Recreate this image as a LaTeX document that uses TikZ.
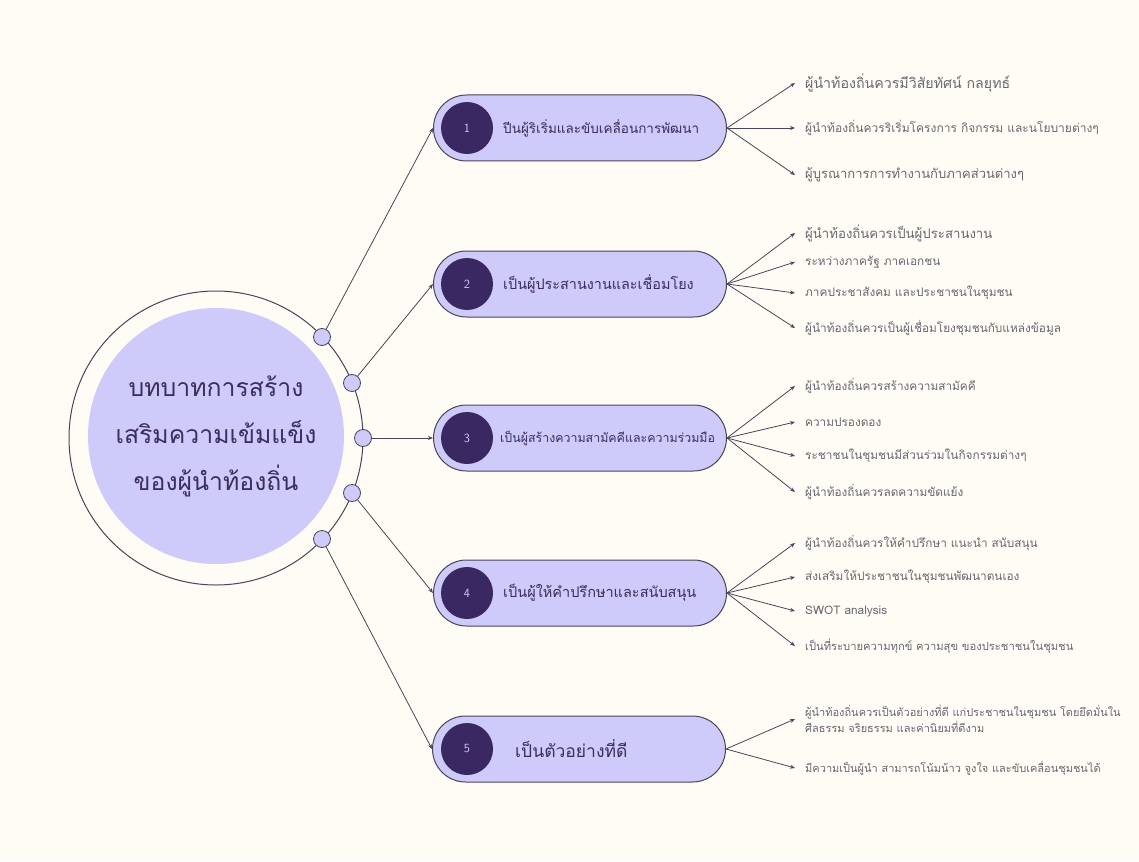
\documentclass[tikz,border=0pt]{standalone}
\usepackage{fontspec}
\newfontfamily\thai[Script=Thai]{Loma}
\setmainfont{Liberation Sans}
\usetikzlibrary{arrows.meta,shapes.misc}
\definecolor{bg}{HTML}{FFFCF6}
\definecolor{lav}{HTML}{CECAFA}
\definecolor{dark}{HTML}{3A2862}
\definecolor{ttext}{HTML}{3B2E58}
\definecolor{leafc}{HTML}{6A6670}
\definecolor{ln}{HTML}{4A4458}
\begin{document}
\begin{tikzpicture}[x=1pt,y=-1pt,
  pill/.style={rounded rectangle, draw=ln, line width=1pt, fill=lav, minimum width=293pt, minimum height=66pt, inner sep=0pt},
  num/.style={circle, fill=dark, minimum size=52pt, inner sep=0pt, text=lav, font=\sffamily\fontsize{12.5}{12.5}\selectfont},
  ptext/.style={anchor=west, inner sep=0pt, text=ttext, font=\thai\fontsize{#1}{#1}\selectfont},
  hub/.style={circle, draw=ln, line width=0.8pt, fill=lav, minimum size=17pt, inner sep=0pt},
  leaf/.style={anchor=west, inner xsep=10pt, inner ysep=0pt, text=leafc, align=left, font=\thai\fontsize{#1}{15.5}\selectfont},
  leaf/.default=11.8,
  arr/.style={draw=ln, line width=0.8pt, -{Stealth[length=5pt,width=4pt]}}
]
\fill[bg] (0,0) rectangle (1139,861);
\useasboundingbox (0,0) rectangle (1139,861);

% centre
\node[circle, draw=ln, line width=1pt, minimum size=294pt, inner sep=0pt] (ring) at (216,438) {};
\node[circle, fill=lav, minimum size=256pt, inner sep=0pt, align=center, text=ttext,
      font=\thai\fontsize{24.8}{47}\selectfont] (core) at (216,436)
      {บทบาทการสร้าง\\เสริมความเข้มแข็ง\\ของผู้นำท้องถิ่น};

\node[hub] (h1) at (322,337) {};
\node[hub] (h2) at (352,383) {};
\node[hub] (h3) at (363,438) {};
\node[hub] (h4) at (352,493) {};
\node[hub] (h5) at (322,539) {};

% pills
\node[pill] (p1) at (580,128) {};
\node[pill] (p2) at (580,284) {};
\node[pill] (p3) at (580,438) {};
\node[pill] (p4) at (580,593) {};
\node[pill] (p5) at (579,749) {};

\node[num] (n1) at (467,128) {1};
\node[num] (n2) at (467,284) {2};
\node[num] (n3) at (467,438) {3};
\node[num] (n4) at (467,593) {4};
\node[num] (n5) at (467,749) {5};

\node[ptext=13.5] (t1) at (503,128) {ปีนผู้ริเริ่มและขับเคลื่อนการพัฒนา};
\node[ptext=14.4] (t2) at (503,284) {เป็นผู้ประสานงานและเชื่อมโยง};
\node[ptext=12.4] (t3) at (500,438) {เป็นผู้สร้างความสามัคคีและความร่วมมือ};
\node[ptext=14.5] (t4) at (503,593) {เป็นผู้ให้คำปรึกษาและสนับสนุน};
\node[ptext=17.5] (t5) at (515,749) {เป็นตัวอย่างที่ดี};

\draw[arr] (h1) -- (p1.west);
\draw[arr] (h2) -- (p2.west);
\draw[arr] (h3) -- (p3.west);
\draw[arr] (h4) -- (p4.west);
\draw[arr] (h5) -- (p5.west);

% leaves group 1
\node[leaf=14.2] (l11) at (795,83) {ผู้นำท้องถิ่นควรมีวิสัยทัศน์ กลยุทธ์};
\node[leaf=12] (l12) at (795,128) {ผู้นำท้องถิ่นควรริเริ่มโครงการ กิจกรรม และนโยบายต่างๆ};
\node[leaf=13] (l13) at (795,175) {ผู้บูรณาการการทำงานกับภาคส่วนต่างๆ};
% group 2
\node[leaf=13.2] (l21) at (795,233) {ผู้นำท้องถิ่นควรเป็นผู้ประสานงาน};
\node[leaf] (l22) at (795,262) {ระหว่างภาครัฐ ภาคเอกชน};
\node[leaf] (l23) at (795,293) {ภาคประชาสังคม และประชาชนในชุมชน};
\node[leaf] (l24) at (795,328) {ผู้นำท้องถิ่นควรเป็นผู้เชื่อมโยงชุมชนกับแหล่งข้อมูล};
% group 3
\node[leaf] (l31) at (795,386) {ผู้นำท้องถิ่นควรสร้างความสามัคคี};
\node[leaf] (l32) at (795,422) {ความปรองดอง};
\node[leaf] (l33) at (795,456) {ระชาชนในชุมชนมีส่วนร่วมในกิจกรรมต่างๆ};
\node[leaf] (l34) at (795,492) {ผู้นำท้องถิ่นควรลดความขัดแย้ง};
% group 4
\node[leaf] (l41) at (795,543) {ผู้นำท้องถิ่นควรให้คำปรึกษา แนะนำ สนับสนุน};
\node[leaf] (l42) at (795,577) {ส่งเสริมให้ประชาชนในชุมชนพัฒนาตนเอง};
\node[leaf] (l43) at (795,611) {SWOT analysis};
\node[leaf=11.2] (l44) at (795,646) {เป็นที่ระบายความทุกข์ ความสุข ของประชาชนในชุมชน};
% group 5
\node[leaf=11] (l51) at (795,719) {ผู้นำท้องถิ่นควรเป็นตัวอย่างที่ดี แก่ประชาชนในชุมชน โดยยึดมั่นใน\\ศีลธรรม จริยธรรม และค่านิยมที่ดีงาม};
\node[leaf=11] (l52) at (795,768) {มีความเป็นผู้นำ สามารถโน้มน้าว จูงใจ และขับเคลื่อนชุมชนได้};

\foreach \p/\l in {p1/l11,p1/l12,p1/l13,p2/l21,p2/l22,p2/l23,p2/l24,p3/l31,p3/l32,p3/l33,p3/l34,p4/l41,p4/l42,p4/l43,p4/l44,p5/l51,p5/l52}
  \draw[arr] (\p.east) -- (\l.west);
\end{tikzpicture}
\end{document}
